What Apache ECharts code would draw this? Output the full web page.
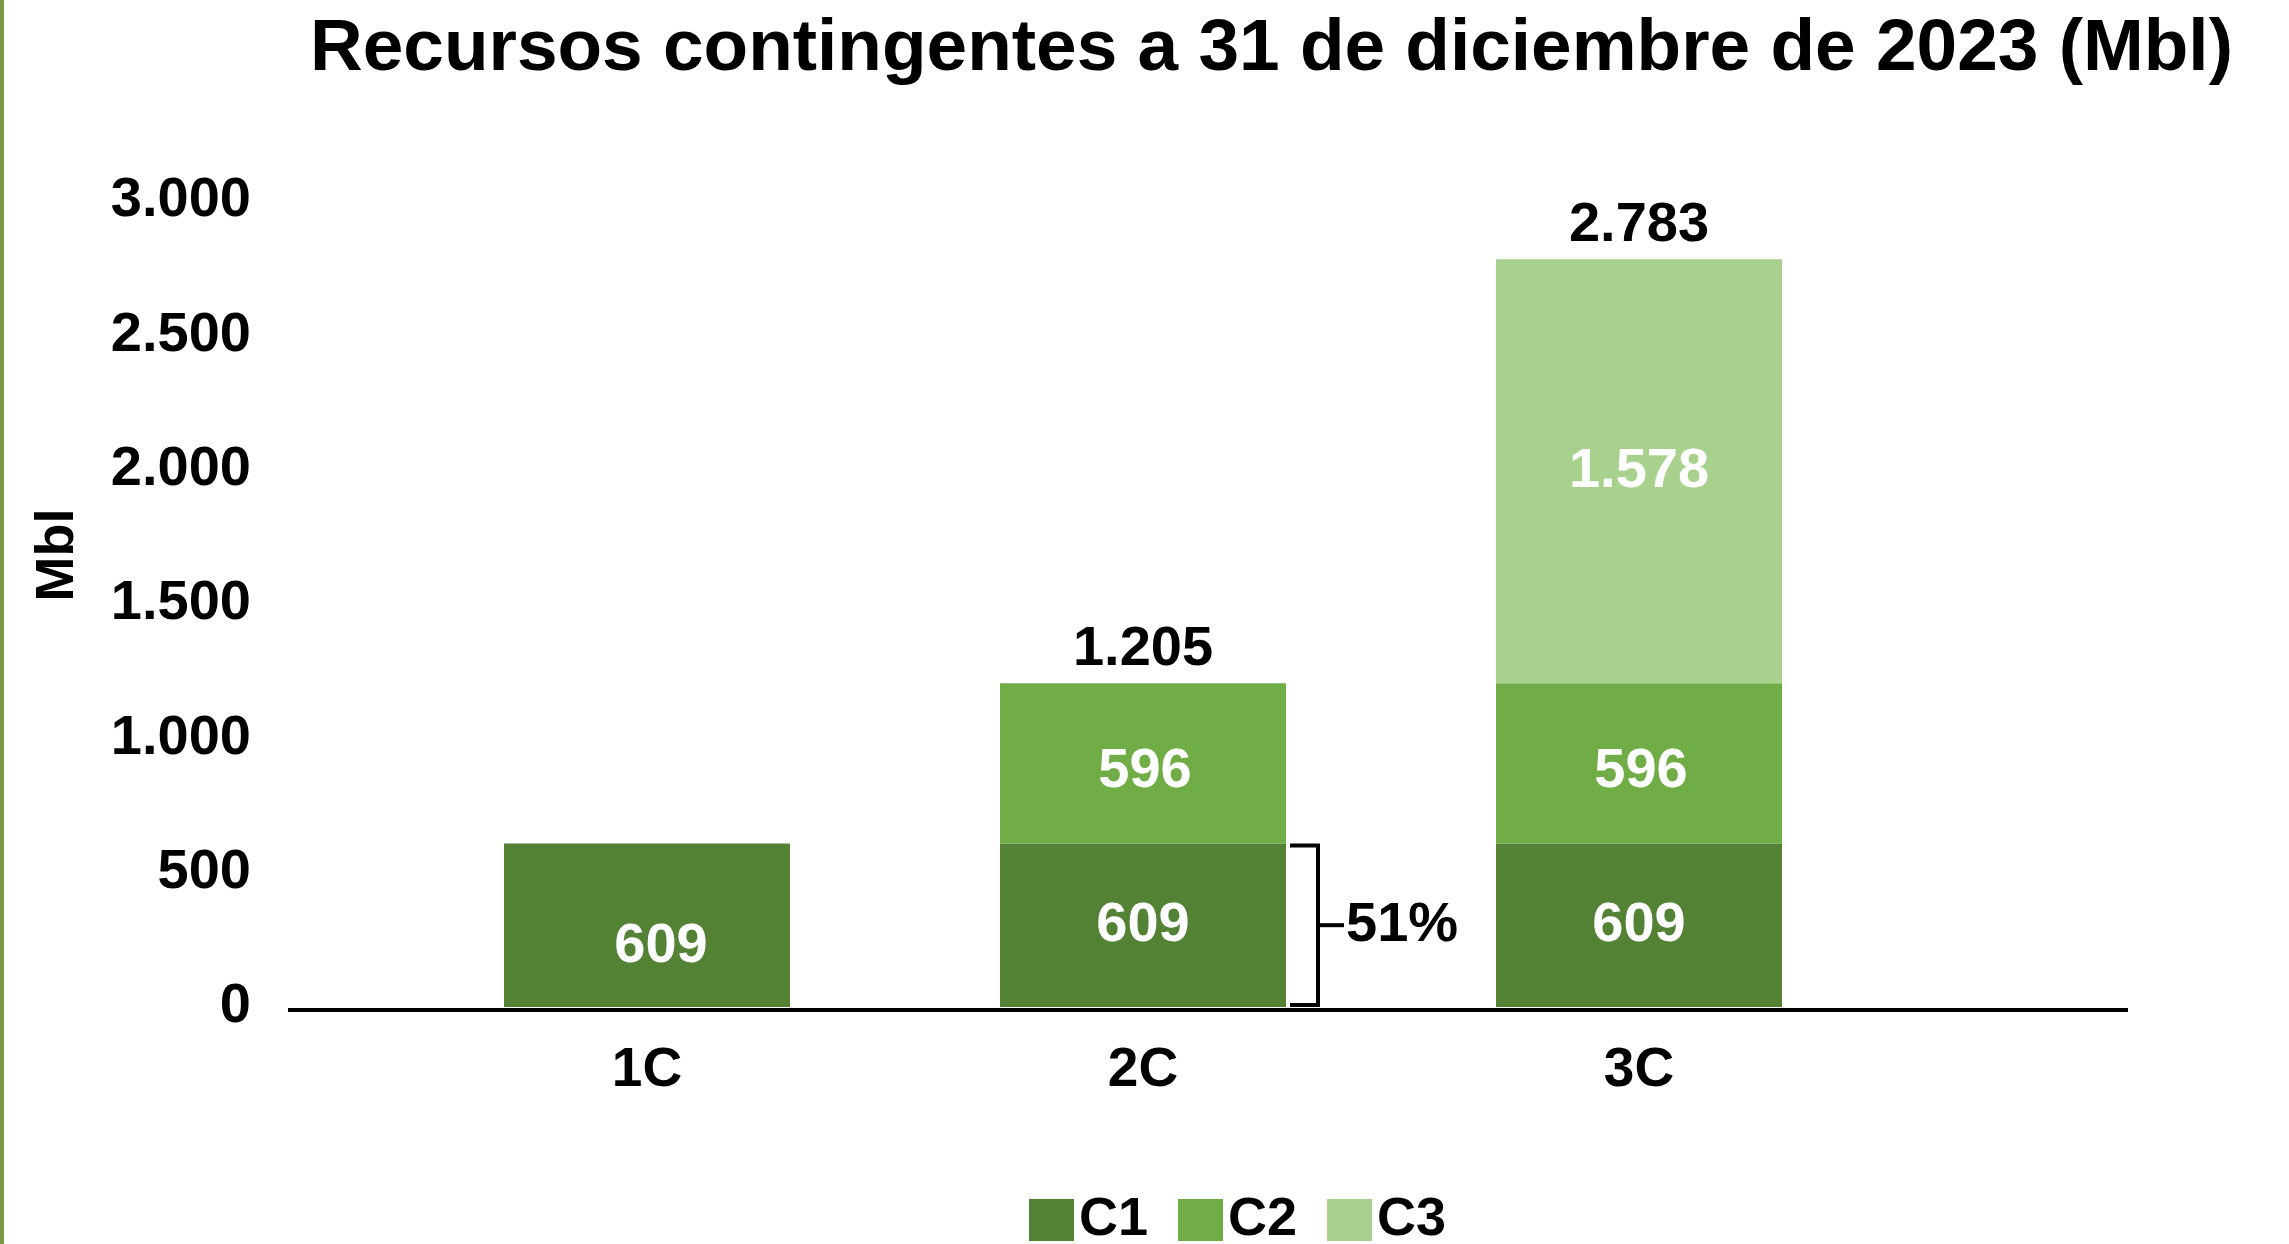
<!DOCTYPE html>
<html>
<head>
<meta charset="utf-8">
<title>Recursos contingentes</title>
<script src="https://cdn.jsdelivr.net/npm/echarts@6/dist/echarts.min.js"></script>
<style>
  html, body { margin: 0; padding: 0; background: #fff; }
  #chart { width: 2289px; height: 1244px; }
</style>
</head>
<body>
<div id="chart"></div>
<script>
// datos
const categories = ["1C", "2C", "3C"];
const c1Values = [609, 609, 609];
const c2Values = [null, 596, 596];
const c3Values = [null, null, 1578];
const totalValues = [null, 1205, 2783];
const yTicks = [0, 500, 1000, 1500, 2000, 2500, 3000];

const FONT = "'Liberation Sans', Arial, sans-serif";
const BAR_W = 286;

// 1.205 -> separador de miles con punto
function fmt(v) {
  return String(v).replace(/\B(?=(\d{3})+(?!\d))/g, ".");
}

const insideLabel = {
  show: true,
  position: "inside",
  color: "#fff",
  fontSize: 56,
  fontWeight: "bold",
  fontFamily: FONT,
  formatter(p) {
    return p.value ? fmt(p.value) : "";
  },
};

const chart = echarts.init(document.getElementById("chart"));

chart.setOption({
  backgroundColor: "#fff",
  animation: false,
  title: {
    text: "Recursos contingentes a 31 de diciembre de 2023 (Mbl)",
    left: 305,
    top: 8,
    textStyle: {
      color: "#000",
      fontSize: 73,
      fontWeight: "bold",
      fontFamily: FONT,
    },
  },
  legend: {
    data: ["C1", "C2", "C3"],
    left: 1024,
    top: 1188,
    icon: "rect",
    itemWidth: 45,
    itemHeight: 42,
    itemGap: 30,
    textStyle: {
      color: "#000",
      fontSize: 54,
      fontWeight: "bold",
      fontFamily: FONT,
    },
  },
  grid: {
    left: 399,
    right: 402,
    top: 201,
    bottom: 237,
  },
  xAxis: {
    type: "category",
    data: categories,
    axisLine: { show: false },
    axisTick: { show: false },
    axisLabel: {
      margin: 36,
      color: "#000",
      fontSize: 55,
      fontWeight: "bold",
      fontFamily: FONT,
    },
  },
  yAxis: {
    type: "value",
    min: yTicks[0],
    max: yTicks[yTicks.length - 1],
    interval: 500,
    splitLine: { show: false },
    axisLine: { show: false },
    axisTick: { show: false },
    axisLabel: {
      margin: 148,
      color: "#000",
      fontSize: 56,
      fontWeight: "bold",
      fontFamily: FONT,
      formatter: fmt,
    },
  },
  series: [
    {
      name: "C1",
      type: "bar",
      stack: "total",
      barWidth: BAR_W,
      itemStyle: { color: "#548235" },
      label: insideLabel,
      // el 609 de 1C está algo más abajo y a la derecha
      data: c1Values.map((v, i) =>
        i === 0 ? { value: v, label: { offset: [14, 21] } } : v
      ),
    },
    {
      name: "C2",
      type: "bar",
      stack: "total",
      barWidth: BAR_W,
      itemStyle: { color: "#70AD47" },
      label: Object.assign({}, insideLabel, { offset: [2, 8] }),
      data: c2Values,
    },
    {
      name: "C3",
      type: "bar",
      stack: "total",
      barWidth: BAR_W,
      itemStyle: { color: "#A9D18E" },
      label: insideLabel,
      data: c3Values,
    },
    {
      // totales encima de las columnas
      name: "Total",
      type: "scatter",
      symbolSize: 0,
      silent: true,
      itemStyle: { opacity: 1 },
      label: {
        show: true,
        position: "top",
        distance: 6,
        color: "#000",
        opacity: 1,
        fontSize: 56,
        fontWeight: "bold",
        fontFamily: FONT,
        formatter(p) {
          return fmt(p.value);
        },
      },
      data: totalValues,
    },
  ],
});

// anotaciones: eje base, llave del 51 %, título del eje y borde verde
const px = (cat, val) => chart.convertToPixel({ xAxisIndex: 0, yAxisIndex: 0 }, [cat, val]);
const base = px("2C", 0);
const top609 = px("2C", c1Values[1]);
const bx = base[0] + BAR_W / 2;
const midY = (base[1] + top609[1]) / 2;
const share = Math.round((c1Values[1] / totalValues[1]) * 100) + "%";

chart.setOption({
  graphic: [
    {
      type: "rect",
      shape: { x: 0, y: 0, width: 4, height: 1244 },
      style: { fill: "#7A9A45" },
    },
    {
      type: "line",
      shape: { x1: 288, y1: base[1] + 3, x2: 2128, y2: base[1] + 3 },
      style: { stroke: "#000", lineWidth: 4 },
    },
    {
      type: "polyline",
      shape: {
        points: [
          [bx + 4, top609[1] + 2],
          [bx + 32, top609[1] + 2],
          [bx + 32, base[1] - 2],
          [bx + 4, base[1] - 2],
        ],
      },
      style: { stroke: "#000", lineWidth: 4, fill: null },
    },
    {
      type: "line",
      shape: { x1: bx + 32, y1: midY, x2: bx + 58, y2: midY },
      style: { stroke: "#000", lineWidth: 4 },
    },
    {
      type: "text",
      x: bx + 60,
      y: midY,
      style: {
        text: share,
        fill: "#000",
        font: "bold 56px " + FONT,
        textAlign: "left",
        textVerticalAlign: "middle",
      },
    },
    {
      type: "text",
      x: 58,
      y: 555,
      rotation: Math.PI / 2,
      style: {
        text: "Mbl",
        fill: "#000",
        font: "bold 54px " + FONT,
        textAlign: "center",
        textVerticalAlign: "middle",
      },
    },
  ],
});
</script>
</body>
</html>
